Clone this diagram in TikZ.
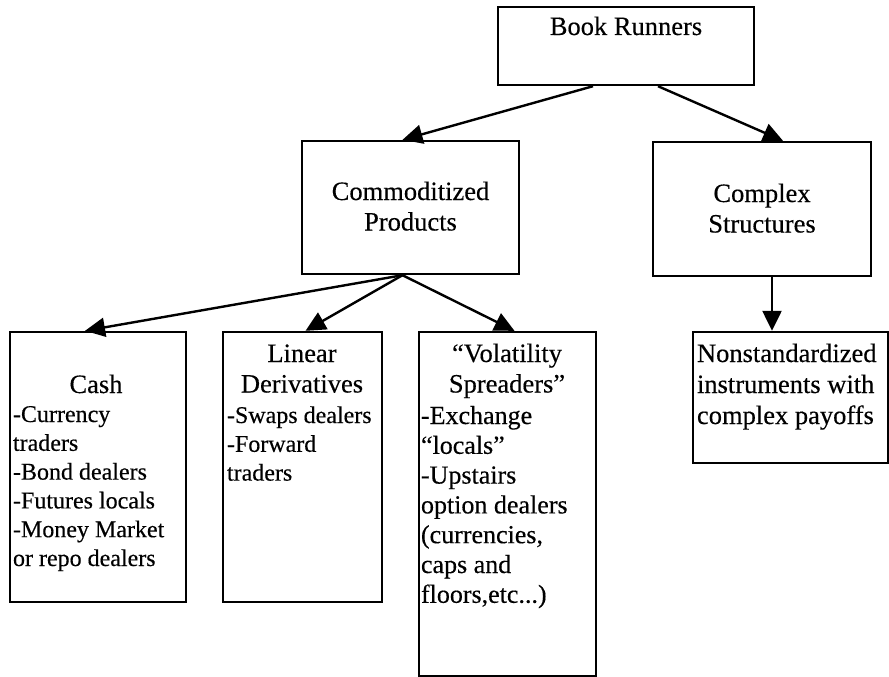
\documentclass[tikz,border=0pt]{standalone}
\usepackage{fontspec}
\setmainfont[FakeBold=0.35]{Liberation Serif}
\usetikzlibrary{arrows.meta,calc}
\newcommand{\hdfont}{\fontsize{26.5}{30.5}\selectfont}
\newcommand{\bodyA}{\fontsize{24}{28.8}\selectfont}
\newcommand{\bodyB}{\fontsize{26}{29.8}\selectfont}
\newcommand{\bodyC}{\fontsize{26.5}{31}\selectfont}
\begin{document}
\begin{tikzpicture}[x=1pt,y=-1pt,
  box/.style={draw, line width=2.4pt, inner sep=0pt},
  txt/.style={inner sep=0pt, outer sep=0pt},
  arr/.style={line width=2.4pt, -{Triangle[length=20pt,width=19pt]}}]
\useasboundingbox (0,0) rectangle (889,677);
% boxes
\node[box, minimum width=256pt, minimum height=78pt]  (br)   at (626,46) {};
\node[box, minimum width=217pt, minimum height=133pt] (cp)   at (410.5,207.5) {};
\node[box, minimum width=218pt, minimum height=134pt] (cs)   at (762,209) {};
\node[box, minimum width=176pt, minimum height=270pt] (cash) at (98,467) {};
\node[box, minimum width=159pt, minimum height=270pt] (lin)  at (302.5,467) {};
\node[box, minimum width=177pt, minimum height=344pt] (vol)  at (507.5,504) {};
\node[box, minimum width=195pt, minimum height=131pt] (ns)   at (790.5,397.5) {};
% headings
\node[txt, anchor=base] (brt) at (626,35) {\hdfont Book Runners};
\node[txt, anchor=base] (cpt) at (410.5,200) {\hdfont\begin{tabular}[t]{@{}c@{}}Commoditized\\Products\end{tabular}};
\node[txt, anchor=base] (cst) at (762,202) {\hdfont\begin{tabular}[t]{@{}c@{}}Complex\\Structures\end{tabular}};
\node[txt, anchor=base] (casht) at (96,393) {\hdfont Cash};
\node[txt, anchor=base] (lint) at (302,362) {\hdfont\begin{tabular}[t]{@{}c@{}}Linear\\Derivatives\end{tabular}};
\node[txt, anchor=base] (volt) at (507,362) {\hdfont\begin{tabular}[t]{@{}c@{}}“Volatility\\Spreaders”\end{tabular}};
% bodies
\node[txt, anchor=base west] (cashb) at (13,422) {\bodyA\begin{tabular}[t]{@{}l@{}}-Currency\\traders\\-Bond dealers\\-Futures locals\\-Money Market\\or repo dealers\end{tabular}};
\node[txt, anchor=base west] (linb) at (227,423) {\bodyA\begin{tabular}[t]{@{}l@{}}-Swaps dealers\\-Forward\\traders\end{tabular}};
\node[txt, anchor=base west] (volb) at (421,424) {\bodyB\begin{tabular}[t]{@{}l@{}}-Exchange\\“locals”\\-Upstairs\\option dealers\\(currencies,\\caps and\\floors,etc...)\end{tabular}};
\node[txt, anchor=base west] (nsb) at (697,362) {\bodyC\begin{tabular}[t]{@{}l@{}}Nonstandardized\\instruments with\\complex payoffs\end{tabular}};
% connectors
\draw[arr] ($(br.south)+(-33,0)$) -- ($(cp.north)+(-8,0)$);
\draw[arr] ($(br.south)+(32,0)$) -- ($(cs.north)+(21,0)$);
\draw[arr] ($(cp.south)+(-8,0)$) -- ($(cash.north)+(-13,0)$);
\draw[arr] ($(cp.south)+(-8,0)$) -- ($(lin.north)+(3,0)$);
\draw[arr] ($(cp.south)+(-8,0)$) -- ($(vol.north)+(7,0)$);
\draw[arr] ($(cs.south)+(10,0)$) -- ($(ns.north)+(-18.5,0)$);
\end{tikzpicture}
\end{document}
